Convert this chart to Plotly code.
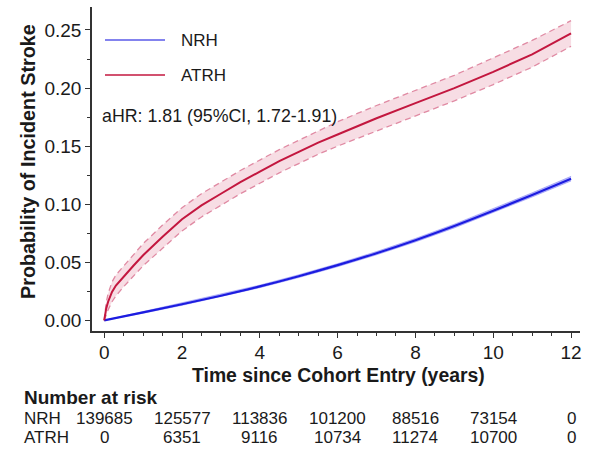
import plotly.graph_objects as go

# ---------------- data ----------------
t_atrh = [0, 0.05, 0.1, 0.2, 0.3, 0.5, 0.75, 1, 1.5, 2, 2.5, 3, 3.5, 4, 4.5, 5,
          5.5, 6, 7, 8, 9, 10, 11, 12]
p_atrh = [0, 0.010, 0.016, 0.0245, 0.030, 0.038, 0.047, 0.056, 0.072, 0.087, 0.099,
          0.109, 0.119, 0.128, 0.137, 0.145, 0.153, 0.160, 0.174, 0.187, 0.200,
          0.214, 0.229, 0.247]
hi_atrh = [0, 0.015, 0.023, 0.033, 0.039, 0.047, 0.056, 0.066, 0.082, 0.097, 0.109,
           0.119, 0.129, 0.138, 0.147, 0.155, 0.163, 0.171, 0.185, 0.198, 0.211,
           0.226, 0.241, 0.258]
lo_atrh = [0, 0.005, 0.009, 0.016, 0.021, 0.029, 0.038, 0.047, 0.062, 0.077, 0.089,
           0.099, 0.109, 0.118, 0.127, 0.135, 0.143, 0.150, 0.163, 0.176, 0.189,
           0.203, 0.218, 0.236]

t_nrh = [0, 1, 2, 3, 4, 5, 6, 7, 8, 9, 10, 11, 12]
p_nrh = [0, 0.0068, 0.0138, 0.0212, 0.0292, 0.0380, 0.0475, 0.0578, 0.0690,
         0.0812, 0.0943, 0.1080, 0.1220]
hi_nrh = [0, 0.0075, 0.0147, 0.0222, 0.0303, 0.0392, 0.0488, 0.0592, 0.0705,
          0.0828, 0.0960, 0.1098, 0.1240]
lo_nrh = [0, 0.0061, 0.0129, 0.0202, 0.0281, 0.0368, 0.0462, 0.0564, 0.0675,
          0.0796, 0.0926, 0.1062, 0.1200]

risk_times = [0, 2, 4, 6, 8, 10, 12]
risk_nrh = [139685, 125577, 113836, 101200, 88516, 73154, 0]
risk_atrh = [0, 6351, 9116, 10734, 11274, 10700, 0]

series_names = ["NRH", "ATRH"]
hr_text = "aHR: 1.81 (95%CI, 1.72-1.91)"

# ---------------- style ----------------
RED = "#c3173f"
RED_DASH = "#e08aa3"
RED_FILL = "rgba(236,170,188,0.40)"
BLUE = "#1c1ce0"
BLUE_LEG = "#5a5ae8"
BLUE_FILL = "rgba(110,110,245,0.45)"
TXT = "#1a1a1a"
FONT = "Liberation Sans, Arial, sans-serif"

fig = go.Figure()

# ATRH confidence band
fig.add_trace(go.Scatter(x=t_atrh, y=lo_atrh, mode="lines",
                         line=dict(color=RED_DASH, width=1.3, dash="6px,4px"),
                         showlegend=False, hoverinfo="skip"))
fig.add_trace(go.Scatter(x=t_atrh, y=hi_atrh, mode="lines", fill="tonexty",
                         fillcolor=RED_FILL,
                         line=dict(color=RED_DASH, width=1.3, dash="6px,4px"),
                         showlegend=False, hoverinfo="skip"))
# NRH confidence band
fig.add_trace(go.Scatter(x=t_nrh, y=lo_nrh, mode="lines",
                         line=dict(color=BLUE_FILL, width=1),
                         showlegend=False, hoverinfo="skip"))
fig.add_trace(go.Scatter(x=t_nrh, y=hi_nrh, mode="lines", fill="tonexty",
                         fillcolor=BLUE_FILL, line=dict(color=BLUE_FILL, width=1),
                         showlegend=False, hoverinfo="skip"))
# main curves
fig.add_trace(go.Scatter(x=t_nrh, y=p_nrh, mode="lines", name=series_names[0],
                         line=dict(color=BLUE, width=2.2, shape="spline"),
                         showlegend=False))
fig.add_trace(go.Scatter(x=t_atrh, y=p_atrh, mode="lines", name=series_names[1],
                         line=dict(color=RED, width=2), showlegend=False))

# plot geometry (pixels) used to place decorative items
L, R, T, B = 92, 15, 7, 120
W, H = 595, 451
pw, ph = W - L - R, H - T - B


def px(xp):
    return (xp - L) / pw


def py(yp):
    return (H - B - yp) / ph


shapes = []
annotations = []

# legend (drawn manually)
leg_rows = [(series_names[0], BLUE_LEG, 40), (series_names[1], RED, 75)]
for name, col, ypix in leg_rows:
    shapes.append(dict(type="line", xref="paper", yref="paper",
                       x0=px(105), x1=px(165), y0=py(ypix), y1=py(ypix),
                       line=dict(color=col, width=1.6)))
    annotations.append(dict(text=name, xref="paper", yref="paper", x=px(179),
                            y=py(ypix), xanchor="left", yanchor="middle",
                            showarrow=False, font=dict(size=17, color=TXT)))

annotations.append(dict(text=hr_text, xref="paper", yref="paper", x=px(100),
                        y=py(116), xanchor="left", yanchor="middle",
                        showarrow=False, font=dict(size=17.8, color=TXT)))

# axis titles
annotations.append(dict(text="<b>Time since Cohort Entry (years)</b>", xref="paper",
                        yref="paper", x=px(338), y=py(375), xanchor="center",
                        yanchor="middle", showarrow=False,
                        font=dict(size=19.4, color=TXT)))
annotations.append(dict(text="<b>Probability of Incident Stroke</b>", xref="paper",
                        yref="paper", x=px(28), y=py(162), xanchor="center",
                        yanchor="middle", textangle=-90, showarrow=False,
                        font=dict(size=19.8, color=TXT)))

# number-at-risk table
annotations.append(dict(text="<b>Number at risk</b>", xref="paper", yref="paper",
                        x=px(22), y=py(397), xanchor="left", yanchor="middle",
                        showarrow=False, font=dict(size=19, color=TXT)))
for label, vals, ypix in [(series_names[0], risk_nrh, 418),
                          (series_names[1], risk_atrh, 437.5)]:
    annotations.append(dict(text=label, xref="paper", yref="paper", x=px(22),
                            y=py(ypix), xanchor="left", yanchor="middle",
                            showarrow=False, font=dict(size=17, color=TXT)))
    for tt, v in zip(risk_times, vals):
        annotations.append(dict(text=str(v), xref="x", yref="paper", x=tt,
                                y=py(ypix), xanchor="center", yanchor="middle",
                                showarrow=False, font=dict(size=17, color=TXT)))

fig.update_layout(
    width=W, height=H,
    margin=dict(l=L, r=R, t=T, b=B, pad=0),
    paper_bgcolor="white", plot_bgcolor="white",
    font=dict(family=FONT, color=TXT),
    showlegend=False,
    shapes=shapes, annotations=annotations,
    xaxis=dict(range=[-0.314, 12.23], tickmode="array",
               tickvals=[0, 2, 4, 6, 8, 10, 12], showgrid=False, zeroline=False,
               showline=True, linecolor="#333", linewidth=1.6,
               ticks="outside", ticklen=5, tickwidth=1.2, tickcolor="#333",
               ticklabelstandoff=-2,
               tickfont=dict(size=19, color=TXT),
               minor=dict(dtick=0.5, tick0=0, ticks="outside", ticklen=3,
                          tickwidth=1, tickcolor="#333", showgrid=False)),
    yaxis=dict(range=[-0.0092, 0.2698], tickmode="array",
               tickvals=[0, 0.05, 0.10, 0.15, 0.20, 0.25],
               ticktext=["0.00", "0.05", "0.10", "0.15", "0.20", "0.25"],
               showgrid=False, zeroline=False,
               showline=True, linecolor="#333", linewidth=1.6,
               ticks="outside", ticklen=5, tickwidth=1.2, tickcolor="#333",
               tickfont=dict(size=19, color=TXT),
               minor=dict(dtick=0.025, tick0=0, ticks="outside", ticklen=3,
                          tickwidth=1, tickcolor="#333", showgrid=False)),
)

fig.write_html("out.html")
